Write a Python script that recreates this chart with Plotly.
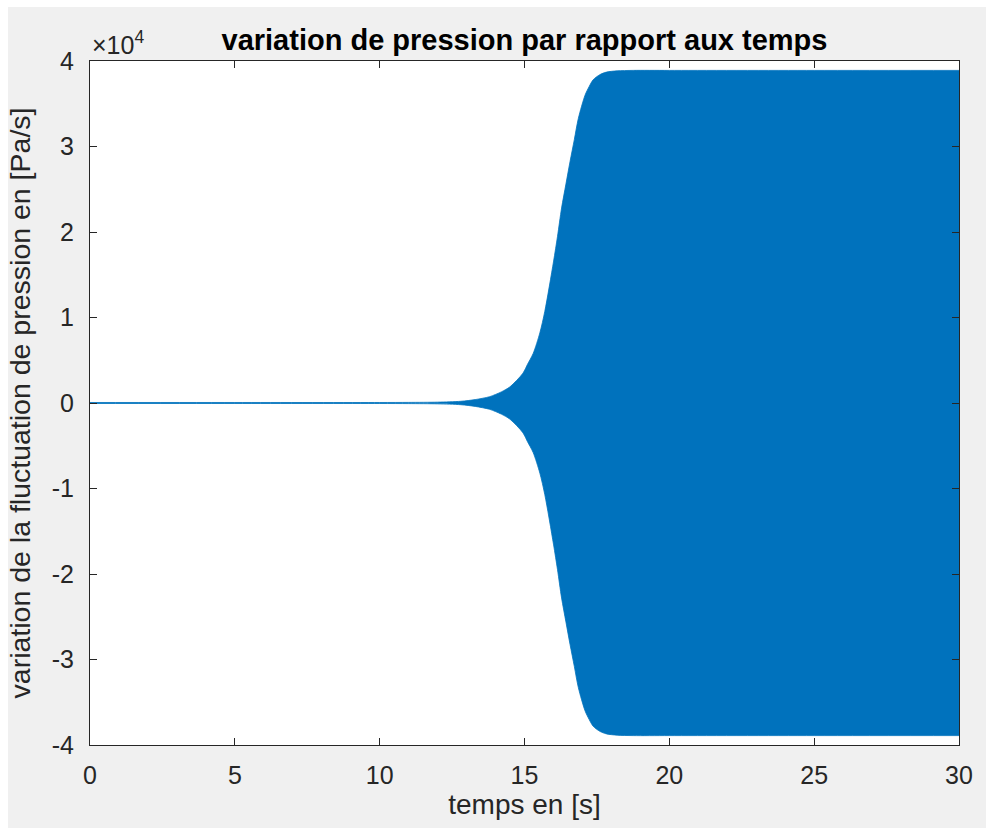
import plotly.graph_objects as go

# Envelope of the pressure-rate oscillation (Pa/s) versus time (s)
temps = [0, 5, 10, 11, 12, 12.8, 13.3, 13.8, 14.0, 14.2, 14.5, 14.95, 15.1,
         15.3, 15.53, 15.7, 16.0, 16.14, 16.28, 16.43, 16.57, 16.72, 16.86,
         17.09, 17.23, 17.37, 17.6, 17.83, 18.2, 18.75, 20, 25, 30]
amplitude = [60, 60, 60, 70, 100, 200, 400, 740, 1000, 1300, 1900, 3500, 4500,
             5800, 8200, 10700, 16500, 19500, 22800, 25600, 28200, 30800,
             33300, 36000, 37000, 37800, 38400, 38700, 38850, 38900, 38900,
             38900, 38900]

y_ticks = [-40000, -30000, -20000, -10000, 0, 10000, 20000, 30000, 40000]
y_tick_text = ["-4", "-3", "-2", "-1", "0", "1", "2", "3", "4"]
x_ticks = [0, 5, 10, 15, 20, 25, 30]

BLUE = "#0072BD"
AXIS = "#262626"
FONT = "Liberation Sans, Arial, Helvetica, sans-serif"

upper = amplitude
lower = [-a for a in amplitude]

fig = go.Figure()
for envelope in (upper, lower):
    fig.add_trace(go.Scatter(
        x=temps,
        y=envelope,
        mode="lines",
        line=dict(color=BLUE, width=0.8, shape="spline", smoothing=0.8),
        fill="tozeroy",
        fillcolor=BLUE,
        hoverinfo="skip",
        showlegend=False,
    ))

axis_common = dict(
    showgrid=False,
    zeroline=False,
    showline=True,
    linecolor=AXIS,
    linewidth=1,
    mirror="ticks",
    ticks="inside",
    ticklen=7,
    tickwidth=1,
    tickcolor=AXIS,
    tickfont=dict(family=FONT, size=25, color=AXIS),
)

fig.update_layout(
    width=986,
    height=828,
    margin=dict(l=90, r=27, t=61, b=83),
    paper_bgcolor="#f0f0f0",
    plot_bgcolor="white",
    title=dict(
        text="<b>variation de pression par rapport aux temps</b>",
        x=0.5, xref="paper", xanchor="center",
        y=1 - 40 / 828, yref="container", yanchor="middle",
        font=dict(family=FONT, size=29, color="black"),
    ),
    xaxis=dict(
        range=[0, 30],
        tickvals=x_ticks,
        ticktext=[str(v) for v in x_ticks],
        ticklabelstandoff=8,
        title=dict(text="temps en [s]", standoff=6,
                   font=dict(family=FONT, size=28, color=AXIS)),
        **axis_common,
    ),
    yaxis=dict(
        range=[-40000, 40000],
        tickvals=y_ticks,
        ticktext=y_tick_text,
        ticklabelstandoff=10,
        title=dict(text="variation de la fluctuation de pression en [Pa/s]",
                   standoff=12,
                   font=dict(family=FONT, size=28.5, color=AXIS)),
        **axis_common,
    ),
    annotations=[
        dict(
            text="\u00d710<sup>4</sup>",
            x=0, xref="paper", xanchor="left",
            y=1, yref="paper", yanchor="bottom",
            showarrow=False,
            font=dict(family=FONT, size=25, color=AXIS),
        )
    ],
    shapes=[
        # thin white border along the top and left of the figure
        dict(type="rect", xref="paper", yref="paper",
             x0=-90 / 869, x1=(986 - 90) / 869,
             y0=1 + 54 / 684, y1=1 + 62 / 684,
             fillcolor="white", line=dict(width=0), layer="below"),
        dict(type="rect", xref="paper", yref="paper",
             x0=-90 / 869, x1=-82 / 869,
             y0=-83 / 684, y1=1 + 62 / 684,
             fillcolor="white", line=dict(width=0), layer="below"),
    ],
)

fig.write_html("out.html")
